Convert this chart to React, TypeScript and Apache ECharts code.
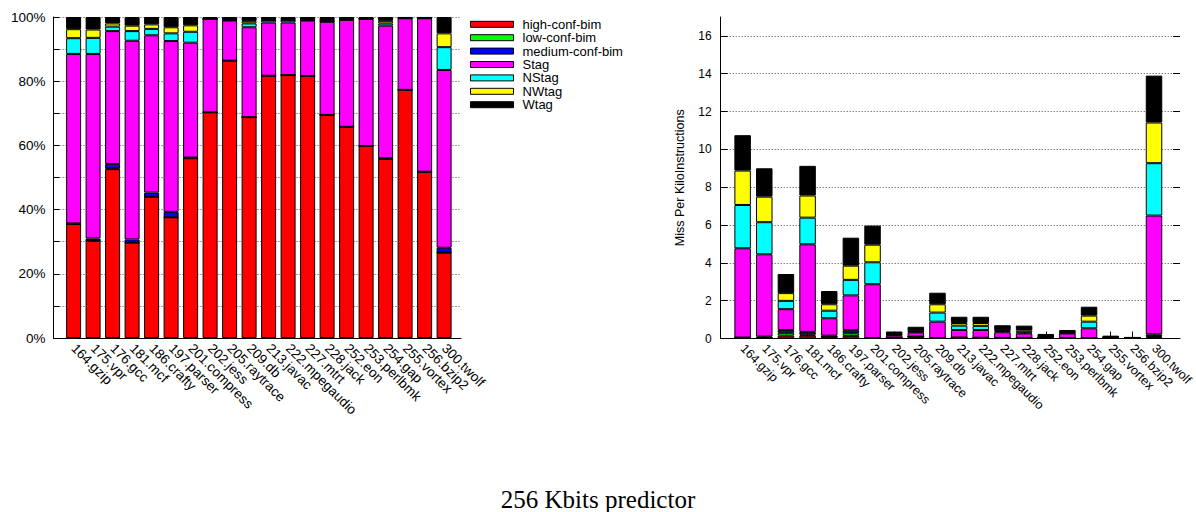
import React, { useEffect, useRef } from "react";
import * as echarts from "echarts";

// ---------- data ----------
const categories = [
  "164.gzip", "175.vpr", "176.gcc", "181.mcf", "186.crafty", "197.parser",
  "201.compress", "202.jess", "205.raytrace", "209.db", "213.javac",
  "222.mpegaudio", "227.mtrt", "228.jack", "252.eon", "253.perlbmk",
  "254.gap", "255.vortex", "256.bzip2", "300.twolf",
];
const seriesNames = ["high-conf-bim", "low-conf-bim", "medium-conf-bim", "Stag", "NStag", "NWtag", "Wtag"];

// left chart: share of each class (%)
const pctHighConfBim = [35.5, 30.3, 52.6, 29.7, 44.0, 37.6, 56.0, 70.3, 86.4, 68.8, 81.7, 81.9, 81.6, 69.5, 65.8, 59.8, 55.8, 77.3, 51.8, 26.6];
const pctLowConfBim = [0, 0, 0.2, 0, 0, 0, 0, 0, 0, 0, 0, 0, 0, 0, 0, 0, 0, 0, 0, 0];
const pctMediumConfBim = [0.2, 0.7, 1.4, 1.0, 1.3, 1.7, 0.2, 0, 0, 0, 0, 0, 0, 0, 0, 0, 0.2, 0, 0, 1.5];
const pctStag = [52.8, 57.5, 41.4, 61.9, 49.0, 53.2, 35.8, 29.1, 12.5, 28.0, 16.6, 16.4, 17.3, 29.0, 33.3, 39.6, 41.3, 22.3, 47.8, 55.4];
const pctNStag = [4.9, 5.0, 1.4, 3.0, 2.0, 2.4, 3.4, 0, 0.2, 1.2, 0.7, 0.7, 0.2, 0.2, 0.2, 0.1, 0.7, 0.1, 0.1, 7.1];
const pctNWtag = [2.8, 2.6, 1.0, 1.7, 1.4, 1.9, 2.0, 0, 0, 0.7, 0.1, 0.1, 0, 0, 0, 0, 0.8, 0, 0, 4.3];
const pctWtag = [3.8, 3.9, 2.0, 2.7, 2.3, 3.2, 2.6, 0.6, 0.9, 1.3, 0.9, 0.9, 0.9, 1.3, 0.7, 0.5, 1.2, 0.3, 0.3, 5.1];

// right chart: misses per kilo-instructions
const mpkiHighConfBim = [0.03, 0.05, 0.15, 0.15, 0.1, 0.14, 0.02, 0.05, 0.1, 0.02, 0.05, 0.04, 0.03, 0.03, 0.02, 0.02, 0.02, 0.02, 0.01, 0.07];
const mpkiLowConfBim = [0, 0, 0.15, 0.05, 0, 0.14, 0, 0, 0, 0, 0, 0, 0, 0, 0, 0, 0, 0, 0, 0.05];
const mpkiMediumConfBim = [0.02, 0.05, 0.15, 0.15, 0.05, 0.16, 0, 0, 0, 0, 0, 0, 0, 0, 0, 0, 0, 0, 0, 0.1];
const mpkiStag = [4.72, 4.35, 1.1, 4.63, 0.92, 1.84, 2.85, 0.13, 0.22, 0.87, 0.4, 0.41, 0.3, 0.24, 0.02, 0.25, 0.52, 0.03, 0.02, 6.28];
const mpkiNStag = [2.29, 1.7, 0.44, 1.41, 0.4, 0.82, 1.16, 0.03, 0.04, 0.48, 0.23, 0.22, 0.06, 0.05, 0, 0.03, 0.35, 0, 0, 2.77];
const mpkiNWtag = [1.82, 1.35, 0.41, 1.17, 0.34, 0.75, 0.93, 0.02, 0.02, 0.44, 0.14, 0.15, 0.04, 0.1, 0, 0.02, 0.32, 0, 0, 2.15];
const mpkiWtag = [1.87, 1.5, 1.01, 1.57, 0.7, 1.48, 1.01, 0.14, 0.24, 0.61, 0.33, 0.33, 0.27, 0.26, 0.2, 0.13, 0.47, 0.1, 0.05, 2.48];

const pctTicks = [0, 10, 20, 30, 40, 50, 60, 70, 80, 90, 100];
const pctLabels = [0, 20, 40, 60, 80, 100];
const mpkiTicks = [0, 2, 4, 6, 8, 10, 12, 14, 16];

const leftValues = [pctHighConfBim, pctLowConfBim, pctMediumConfBim, pctStag, pctNStag, pctNWtag, pctWtag];
const rightValues = [mpkiHighConfBim, mpkiLowConfBim, mpkiMediumConfBim, mpkiStag, mpkiNStag, mpkiNWtag, mpkiWtag];

// ---------- style ----------
const COLORS = ["#ff0000", "#00ff00", "#0000ff", "#ff00ff", "#00ffff", "#ffff00", "#000000"];
const SANS = "'Liberation Sans', Arial, sans-serif";
const SERIF = "'Liberation Serif', 'Times New Roman', serif";

export default function App() {
  const ref = useRef<HTMLDivElement>(null);

  useEffect(() => {
    if (!ref.current) return;
    const chart = echarts.init(ref.current, undefined, { renderer: "svg" });

    const dotted = { color: "#444", width: 1, type: [1, 2] as any };
    const black = { color: "#000", width: 1 };

    // category axes carrying the bars and their labels
    const catAxis = (grid: number, fontSize: number, tickLen: number) => ({
      type: "category" as const,
      gridIndex: grid,
      data: categories,
      boundaryGap: true,
      axisLine: { show: false },
      axisTick: { show: true, inside: true, alignWithLabel: true, length: tickLen, lineStyle: black },
      axisLabel: {
        show: true,
        interval: 0,
        rotate: -45,
        margin: 8,
        fontFamily: SANS,
        fontSize,
        color: "#000",
      },
      splitLine: { show: false },
    });
    // frame axes (full-width baseline)
    const frameX = (grid: number) => ({
      type: "value" as const,
      gridIndex: grid,
      min: 0,
      max: 1,
      axisLine: { show: true, onZero: false, lineStyle: black },
      axisTick: { show: false },
      axisLabel: { show: false },
      splitLine: { show: false },
    });
    const hiddenY = (grid: number, max: number) => ({
      type: "value" as const,
      gridIndex: grid,
      min: 0,
      max,
      show: false,
      splitLine: { show: false },
    });

    const series: any[] = [];
    seriesNames.forEach((name, k) => {
      series.push({
        name,
        type: "bar",
        xAxisIndex: 0,
        yAxisIndex: 0,
        stack: "left",
        barWidth: 15,
        data: leftValues[k],
        itemStyle: { color: COLORS[k], borderColor: "#000", borderWidth: 1 },
        emphasis: { disabled: true },
      });
    });
    seriesNames.forEach((name, k) => {
      series.push({
        name,
        type: "bar",
        xAxisIndex: 1,
        yAxisIndex: 1,
        stack: "right",
        barWidth: 16.5,
        data: rightValues[k],
        itemStyle: { color: COLORS[k], borderColor: "#000", borderWidth: 1 },
        emphasis: { disabled: true },
      });
    });

    chart.setOption({
      animation: false,
      backgroundColor: "#fff",
      textStyle: { fontFamily: SANS },
      title: {
        text: "256 Kbits predictor",
        left: "center",
        top: 482,
        textStyle: { fontFamily: SERIF, fontSize: 25, fontWeight: "normal", color: "#000" },
      },
      legend: {
        data: seriesNames,
        orient: "vertical",
        left: 470,
        top: 17.6,
        padding: 0,
        itemGap: 0,
        itemWidth: 43,
        itemHeight: 6,
        icon: "rect",
        selectedMode: false,
        itemStyle: { borderColor: "#000", borderWidth: 1 },
        textStyle: { fontFamily: SANS, fontSize: 13, color: "#000", lineHeight: 13.4, padding: [0, 0, 0, 4] },
      },
      grid: [
        // bar grids
        { left: 63.85, top: 17, width: 390, height: 321 },
        { left: 731.8, top: 17, width: 437.4, height: 321.5 },
        // frame grids
        { left: 53.5, top: 17, width: 407.5, height: 321 },
        { left: 720.7, top: 17, width: 459.3, height: 321.5 },
      ],
      xAxis: [catAxis(0, 13.6, 6), catAxis(1, 12.5, 7), frameX(2), frameX(3)],
      yAxis: [
        hiddenY(0, 100),
        hiddenY(1, 17),
        {
          type: "value",
          gridIndex: 2,
          min: 0,
          max: 100,
          interval: 10,
          axisLine: { show: true, lineStyle: black },
          axisTick: { show: true, inside: true, length: 6, customValues: pctTicks, lineStyle: black },
          axisLabel: {
            customValues: pctLabels,
            formatter: "{value}%",
            fontFamily: SANS,
            fontSize: 13.5,
            color: "#000",
            margin: 8,
          },
          splitLine: { show: true, lineStyle: dotted },
        },
        {
          type: "value",
          gridIndex: 3,
          min: 0,
          max: 17,
          interval: 2,
          name: "Miss Per KiloInstructions",
          nameLocation: "middle",
          nameGap: 34,
          nameTextStyle: { fontFamily: SANS, fontSize: 12.5, color: "#000" },
          axisLine: { show: true, lineStyle: black },
          axisTick: { show: true, inside: true, length: 7, customValues: mpkiTicks, lineStyle: black },
          axisLabel: { customValues: mpkiTicks, fontFamily: SANS, fontSize: 12, color: "#000", margin: 9 },
          splitLine: { show: true, lineStyle: dotted },
        },
        {
          type: "value",
          gridIndex: 3,
          position: "right",
          min: 0,
          max: 17,
          interval: 2,
          axisLine: { show: false },
          axisTick: { show: true, inside: true, length: 7, customValues: mpkiTicks, lineStyle: black },
          axisLabel: { show: false },
          splitLine: { show: false },
        },
      ],
      series,
    });

    return () => chart.dispose();
  }, []);

  return (
    <div
      ref={ref}
      style={{ position: "fixed", left: 0, top: 0, width: 1196, height: 512, background: "#fff" }}
    />
  );
}
